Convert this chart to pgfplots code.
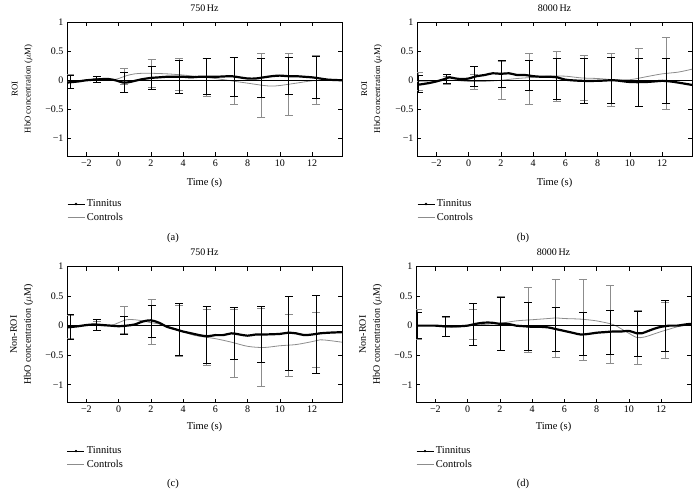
\documentclass[border=0pt]{standalone}
\usepackage{fontspec}
\setmainfont{Liberation Serif}
\usepackage{pgfplots}
\pgfplotsset{compat=1.18}
\definecolor{ctrl}{gray}{0.55}
\pgfplotsset{
  panel/.style={
    scale only axis, width=275pt, anchor=south west,
    xmin=-3.2, xmax=13.85, ymin=-1.3, ymax=1,
    xtick={-2,0,...,12}, xticklabels={−2,0,2,4,6,8,10,12},
    ytick={-1,-0.5,0,0.5,1}, yticklabels={−1,−0.5,0,0.5,1},
    tick align=inside, major tick length=4pt,
    tick label style={font=\fontsize{10}{12}\selectfont},
    axis line style={line width=0.6pt},
    tick style={line width=0.6pt, black},
    xlabel={Time (s)},
    xlabel style={font=\fontsize{10.5}{12}\selectfont, anchor=center},
    title style={font=\fontsize{10}{12}\selectfont, yshift=1pt},
    ylabel style={anchor=center, align=center},
    legend image code/.code={\draw[mark repeat=2,mark phase=2,##1] plot coordinates {(0pt,0pt)(8.5pt,0pt)(17pt,0pt)};},
    legend style={draw=none, fill=none, anchor=north west, font=\fontsize{10.5}{12}\selectfont,
      row sep=1pt, inner sep=0pt, cells={anchor=west}},
  },
  tinline/.style={forget plot, black, line width=2.2pt, smooth},
  ctrlline/.style={forget plot, ctrl, line width=0.8pt, smooth},
  zeroline/.style={forget plot, black, line width=0.6pt},
  tinerr/.style={forget plot, draw=none, mark=none,
    error bars/.cd, y dir=both, y explicit,
    error mark=-,
    error bar style={draw=black, solid, line width=0.7pt},
    error mark options={rotate=90, draw=black, solid, mark size=4pt, line width=0.7pt}},
  ctrlerr/.style={forget plot, draw=none, mark=none,
    error bars/.cd, y dir=both, y explicit,
    error mark=-,
    error bar style={draw=ctrl, solid, line width=0.7pt},
    error mark options={rotate=90, draw=ctrl, solid, mark size=4pt, line width=0.7pt}},
}
\newcommand{\legendstuff}{%
  \addlegendimage{black, line width=0.6pt, mark=*, mark size=0.9pt}
  \addlegendentry{Tinnitus}
  \addlegendimage{ctrl, line width=0.6pt}
  \addlegendentry{Controls}}
\begin{document}
\begin{tikzpicture}
\path[use as bounding box] (0pt,0pt) rectangle (699pt,496pt);

% ---------------- (a)
\begin{axis}[panel, at={(67pt,340pt)}, height=134pt,
  title={750\,Hz},
  ylabel={ROI\\[3pt]HbO concentration ($\mu$M)},
  ylabel style={font=\fontsize{8.8}{10}\selectfont, at={(axis description cs:-0.163,0.5)}},
  xlabel style={at={(axis description cs:0.5,-0.2)}},
  legend style={at={(axis description cs:0.0,-0.31)}}]
\addplot[ctrlline] table {
-3.2 -0.03
-2.5 -0.01
-2 0.0
-1 0.0
-0.5 0.0
0 0.03
0.5 0.08
1.0 0.11
1.5 0.12
2.0 0.12
3.0 0.11
4.0 0.09
5.0 0.06
6.0 0.03
7.0 -0.01
8.0 -0.05
9.0 -0.09
9.5 -0.1
10.0 -0.09
11.0 -0.05
12.0 -0.01
13.0 0.0
13.85 0.0
};
\addplot[ctrlerr] table[x=t,y=y,y error=e] {
t y e
-3.0 -0.02 0.12
-1.35 0.0 0.04
0.35 0.07 0.14
2.05 0.12 0.24
3.75 0.1 0.27
5.45 0.05 0.32
7.15 -0.01 0.4
8.85 -0.09 0.55
10.55 -0.07 0.53
12.25 0.0 0.42
};
\addplot[zeroline] coordinates {(-3.2,0) (13.85,0)};
\addplot[tinerr] table[x=t,y=y,y error=e] {
t y e
-3.0 -0.03 0.11
-1.35 0.01 0.05
0.35 -0.04 0.17
2.05 0.04 0.2
3.75 0.06 0.29
5.45 0.06 0.31
7.15 0.06 0.33
8.85 0.04 0.33
10.55 0.07 0.32
12.25 0.05 0.36
};
\addplot[tinline] table {
-3.2 -0.04
-2.5 -0.02
-2 0.0
-1.5 0.01
-1 0.02
-0.6 0.02
-0.2 0.0
0.3 -0.04
0.7 -0.03
1.0 -0.01
1.5 0.02
2.0 0.04
2.5 0.05
3.0 0.06
3.5 0.06
4.0 0.06
4.5 0.05
5.0 0.06
6.0 0.06
6.5 0.065
7.0 0.07
7.5 0.05
8.0 0.03
8.5 0.03
9.0 0.05
9.5 0.07
10.0 0.08
10.5 0.07
11.0 0.07
11.5 0.06
12.0 0.05
12.5 0.03
13.0 0.01
13.85 0.0
};
\legendstuff
\end{axis}

% ---------------- (b)
\begin{axis}[panel, at={(417pt,340pt)}, height=134pt,
  title={8000\,Hz},
  ylabel={ROI\\[3pt]HbO concentration ($\mu$M)},
  ylabel style={font=\fontsize{8.8}{10}\selectfont, at={(axis description cs:-0.165,0.5)}},
  xlabel style={at={(axis description cs:0.5,-0.2)}},
  legend style={at={(axis description cs:0.0,-0.31)}}]
\addplot[ctrlline] table {
-3.2 -0.02
-2 -0.01
-1 0.0
0 -0.02
1 -0.02
2 0.0
3 0.03
4 0.05
5 0.07
6 0.07
7 0.04
8 0.03
9 0.01
10 0.01
11 0.06
12 0.11
13 0.14
13.85 0.19
};
\addplot[ctrlerr] table[x=t,y=y,y error=e] {
t y e
-3.1 -0.02 0.16
-1.35 0.0 0.07
0.35 -0.02 0.13
2.05 0.0 0.33
3.75 0.02 0.44
5.45 0.07 0.43
7.15 0.04 0.38
8.85 0.01 0.45
10.55 0.05 0.5
12.25 0.12 0.62
};
\addplot[zeroline] coordinates {(-3.2,0) (13.85,0)};
\addplot[tinerr] table[x=t,y=y,y error=e] {
t y e
-3.1 -0.06 0.15
-1.35 0.02 0.075
0.35 0.07 0.17
2.05 0.11 0.24
3.75 0.08 0.26
5.45 0.03 0.35
7.15 -0.01 0.38
8.85 0.0 0.39
10.55 -0.03 0.41
12.25 -0.01 0.39
};
\addplot[tinline] table {
-3.2 -0.08
-2.5 -0.05
-2 -0.02
-1.5 0.02
-1.2 0.05
-0.8 0.03
-0.4 0.02
0 0.03
0.5 0.07
1.0 0.09
1.5 0.12
2.0 0.11
2.5 0.12
3.0 0.09
3.5 0.09
4.0 0.07
4.5 0.06
5.0 0.06
5.5 0.05
6.0 0.01
7.0 -0.01
8.0 -0.01
9.0 0.0
10.0 -0.03
11.0 -0.03
12.0 -0.01
12.5 -0.02
13.0 -0.04
13.85 -0.08
};
\legendstuff
\end{axis}

% ---------------- (c)
\begin{axis}[panel, at={(67pt,93.5pt)}, height=136pt,
  title={750\,Hz},
  ylabel={Non-ROI\\[3pt]HbO concentration ($\mu$M)},
  ylabel style={font=\fontsize{10}{11}\selectfont, at={(axis description cs:-0.165,0.5)}},
  xlabel style={at={(axis description cs:0.5,-0.18)}},
  legend style={at={(axis description cs:0.0,-0.31)}}]
\addplot[ctrlline] table {
-3.2 -0.03
-2 0.0
-1 0.0
-0.5 0.0
0 0.05
0.5 0.1
1.0 0.1
1.5 0.08
2.0 0.05
2.5 0.03
3.0 -0.01
3.5 -0.05
4.0 -0.1
4.5 -0.15
5.0 -0.18
6.0 -0.22
7.0 -0.28
8.0 -0.35
9.0 -0.37
10.0 -0.34
11.0 -0.32
12.0 -0.27
12.5 -0.24
13.0 -0.25
13.85 -0.28
};
\addplot[ctrlerr] table[x=t,y=y,y error=e] {
t y e
-3.0 -0.02 0.2
-1.35 0.0 0.08
0.35 0.1 0.23
2.05 0.06 0.38
3.75 -0.09 0.43
5.45 -0.2 0.47
7.15 -0.3 0.58
8.85 -0.36 0.66
10.55 -0.33 0.52
12.25 -0.24 0.46
};
\addplot[zeroline] coordinates {(-3.2,0) (13.85,0)};
\addplot[tinerr] table[x=t,y=y,y error=e] {
t y e
-3.0 -0.02 0.21
-1.35 0.01 0.09
0.35 0.0 0.15
2.05 0.08 0.27
3.75 -0.07 0.44
5.45 -0.16 0.48
7.15 -0.13 0.44
8.85 -0.15 0.47
10.55 -0.13 0.63
12.25 -0.14 0.66
};
\addplot[tinline] table {
-3.2 -0.03
-2.5 -0.01
-2 0.01
-1.5 0.02
-1 0.01
-0.5 0.0
0 -0.01
0.5 0.0
1.0 0.02
1.5 0.07
2.0 0.09
2.5 0.05
3.0 -0.02
3.5 -0.06
4.0 -0.1
4.5 -0.13
5.0 -0.16
5.5 -0.18
6.0 -0.16
6.5 -0.16
7.0 -0.13
7.5 -0.15
8.0 -0.17
8.5 -0.15
9.0 -0.15
10.0 -0.14
10.5 -0.12
11.0 -0.13
11.5 -0.16
12.0 -0.15
12.5 -0.13
13.0 -0.12
13.85 -0.11
};
\legendstuff
\end{axis}

% ---------------- (d)
\begin{axis}[panel, at={(416pt,93.5pt)}, height=136pt,
  title={8000\,Hz},
  ylabel={Non-ROI\\[3pt]HbO concentration ($\mu$M)},
  ylabel style={font=\fontsize{10}{11}\selectfont, at={(axis description cs:-0.165,0.5)}},
  xlabel style={at={(axis description cs:0.5,-0.18)}},
  legend style={at={(axis description cs:0.0,-0.31)}}]
\addplot[ctrlline] table {
-3.2 0.0
-2 0.0
-1.5 -0.02
-1 -0.03
-0.5 -0.02
0 0.0
1 0.02
2 0.04
3 0.08
4 0.1
5 0.12
5.5 0.13
6 0.12
7 0.11
8 0.08
9 0.02
9.5 -0.05
10 -0.13
10.5 -0.2
11 -0.19
12 -0.1
12.5 -0.06
13 -0.02
13.85 0.02
};
\addplot[ctrlerr] table[x=t,y=y,y error=e] {
t y e
-3.1 0.02 0.25
-1.35 -0.02 0.16
0.35 0.02 0.25
2.05 0.04 0.45
3.75 0.1 0.55
5.45 0.13 0.66
7.15 0.1 0.68
8.85 0.02 0.66
10.55 -0.2 0.46
12.25 -0.08 0.48
};
\addplot[zeroline] coordinates {(-3.2,0) (13.85,0)};
\addplot[tinerr] table[x=t,y=y,y error=e] {
t y e
-3.1 0.0 0.22
-1.35 -0.01 0.17
0.35 0.02 0.35
2.05 0.03 0.45
3.75 -0.01 0.4
5.45 -0.06 0.37
7.15 -0.14 0.36
8.85 -0.11 0.37
10.55 -0.14 0.38
12.25 0.0 0.43
};
\addplot[tinline] table {
-3.2 0.0
-2.5 0.0
-2 0.0
-1.5 -0.01
-1 -0.01
-0.5 -0.01
0 0.0
0.5 0.03
1.0 0.05
1.5 0.05
2.0 0.03
2.5 0.03
3.0 0.0
3.5 -0.01
4.0 -0.02
4.5 -0.02
5.0 -0.03
5.5 -0.06
6.0 -0.09
6.5 -0.12
7.0 -0.15
7.5 -0.14
8.0 -0.12
8.5 -0.11
9.0 -0.1
9.5 -0.1
10.0 -0.09
10.5 -0.13
10.8 -0.13
11.2 -0.09
11.6 -0.05
12.0 -0.02
12.5 0.0
13.0 0.0
13.5 0.02
13.85 0.03
};
\legendstuff
\end{axis}

\node[font=\fontsize{10.5}{12}\selectfont] at (173pt,258pt) {(a)};
\node[font=\fontsize{10.5}{12}\selectfont] at (523pt,258pt) {(b)};
\node[font=\fontsize{10.5}{12}\selectfont] at (173pt,12pt) {(c)};
\node[font=\fontsize{10.5}{12}\selectfont] at (523pt,12pt) {(d)};
\end{tikzpicture}
\end{document}
